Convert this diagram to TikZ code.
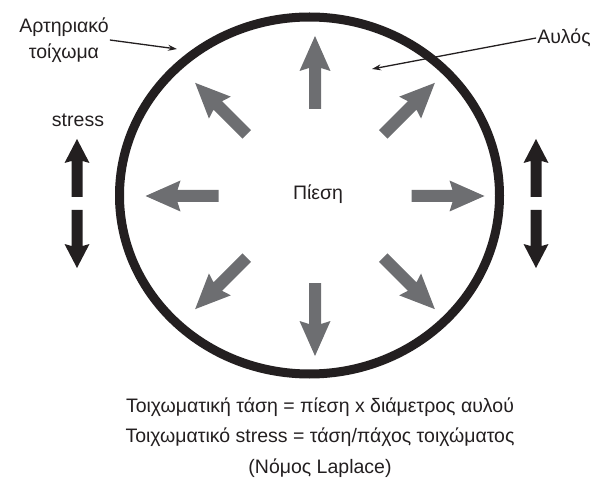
\documentclass[tikz,border=0pt]{standalone}
\usepackage{fontspec}
\setmainfont{Liberation Sans}
\usepackage{tikz}
\usetikzlibrary{arrows.meta}
\definecolor{WallBlack}{HTML}{231F20}
\definecolor{ArrowGray}{HTML}{6D6E71}

\tikzset{
  gray arrow/.pic={
    \fill[ArrowGray] (0,-6) -- (41,-6) -- (38,-15.5) -- (73,0)
      -- (38,15.5) -- (41,6) -- (0,6) -- cycle;
  },
  stress arrow/.pic={
    \fill[WallBlack] (0,-5.5) -- (36,-5.5) -- (34,-12.5) -- (58,0)
      -- (34,12.5) -- (36,5.5) -- (0,5.5) -- cycle;
  }
}

\begin{document}
\begin{tikzpicture}[
  x=1pt, y=-1pt,
  labeltext/.style={
    font=\fontsize{19.5}{26}\selectfont,
    text=WallBlack,
    inner sep=1pt
  },
  wall/.style={draw=WallBlack, line width=9pt},
  pointer/.style={-{Stealth[length=9pt,width=6pt]}, draw=WallBlack, line width=1.3pt}
]
\useasboundingbox (0,0) rectangle (605,489);

% Vessel wall
\draw[wall] (309.5,195.5) ellipse [x radius=190pt, y radius=178.5pt];

% Pressure arrows
\foreach \a in {0,45,...,315}
  \pic[rotate=\a] at ({315+96.5*cos(\a)},{196-87*sin(\a)}) {gray arrow};
\node[labeltext] (pressure) at (318,194) {Πίεση};

% Stress arrows on both sides
\pic[rotate=90]  at (77,197)  {stress arrow};
\pic[rotate=-90] at (77,210)  {stress arrow};
\pic[rotate=90]  at (536,197) {stress arrow};
\pic[rotate=-90] at (536,210) {stress arrow};
\node[labeltext] (stress) at (78,120) {stress};

% Labels
\node[labeltext,align=center] (wall label) at (64,40) {Αρτηριακό\\τοίχωμα};
\node[labeltext] (lumen label) at (564,38) {Αυλός};
\coordinate (wall tip) at (177,49);
\coordinate (lumen tip) at (372,69);
\draw[pointer] (wall label.east) -- (wall tip);
\draw[pointer] (lumen label.west) -- (lumen tip);

% Law
\node[labeltext] (tension) at (320,407) {Τοιχωματική τάση = πίεση x διάμετρος αυλού};
\node[labeltext] (wallstress) at (320,437) {Τοιχωματικό stress = τάση/πάχος τοιχώματος};
\node[labeltext] (laplace) at (320,468) {(Νόμος Laplace)};
\end{tikzpicture}
\end{document}
